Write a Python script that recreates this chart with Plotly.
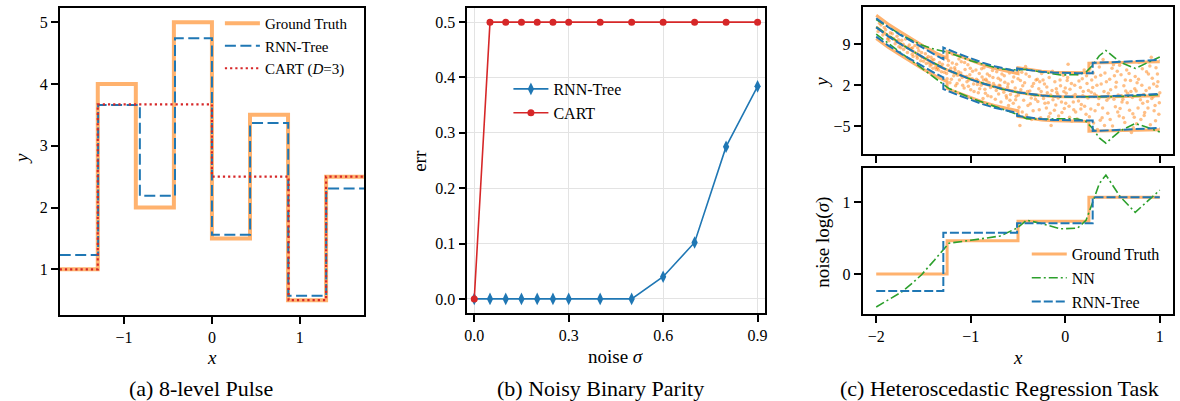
import math
import plotly.graph_objects as go

W, H = 1180, 401

# ---------------- Panel (a): 8-level pulse ----------------
pulse_gt_edges = [-1.732, -1.299, -0.866, -0.433, 0.0, 0.433, 0.866, 1.299, 1.732]
pulse_gt_levels = [1.0, 4.0, 2.0, 5.0, 1.5, 3.5, 0.5, 2.5]
pulse_rnn_edges = [-1.732, -1.295, -0.82, -0.42, 0.0, 0.434, 0.868, 1.30, 1.732]
pulse_rnn_levels = [1.23, 3.66, 2.19, 4.74, 1.56, 3.37, 0.57, 2.31]
pulse_cart_edges = [-1.732, -1.299, 0.0, 0.872, 1.299, 1.732]
pulse_cart_levels = [1.0, 3.67, 2.5, 0.5, 2.5]

# ---------------- Panel (b): noisy binary parity ----------------
parity_noise = [0.0, 0.05, 0.1, 0.15, 0.2, 0.25, 0.3, 0.4, 0.5, 0.6, 0.7, 0.8, 0.9]
parity_rnn_err = [0.0, 0.0, 0.0, 0.0, 0.0, 0.0, 0.0, 0.0, 0.0, 0.040, 0.102, 0.275, 0.384]
parity_cart_err = [0.0, 0.5, 0.5, 0.5, 0.5, 0.5, 0.5, 0.5, 0.5, 0.5, 0.5, 0.5, 0.5]

# ---------------- Panel (c): heteroscedastic regression ----------------
gt_x = [-2.0, -1.875, -1.75, -1.625, -1.5, -1.375, -1.25, -1.125, -1.0, -0.875, -0.75,
        -0.625, -0.5, -0.375, -0.25, -0.125, 0.0, 0.25, 0.5, 0.75, 1.0]
gt_mean = [12.0, 10.5, 9.2, 7.9, 6.7, 5.6, 4.6, 3.8, 3.0, 2.3, 1.7,
           1.2, 0.8, 0.45, 0.2, 0.05, 0.0, -0.05, 0.0, 0.1, 0.2]
gt_breaks = [-1.25, -0.5, 0.25]
gt_logsig = [0.0, 0.465, 0.735, 1.07]

rnn_x = [-2.0, -1.875, -1.75, -1.625, -1.5, -1.375, -1.29, -1.125, -1.0, -0.875, -0.75,
         -0.625, -0.51, -0.375, -0.25, -0.125, 0.0, 0.125, 0.29, 0.5, 0.75, 1.0]
rnn_mean = [11.9, 10.4, 9.1, 7.9, 6.7, 5.6, 4.9, 3.8, 3.0, 2.3, 1.7,
            1.2, 0.8, 0.5, 0.25, 0.1, 0.0, 0.0, 0.0, 0.1, 0.3, 0.5]
rnn_breaks = [-1.29, -0.51, 0.29]
rnn_logsig = [-0.237, 0.576, 0.707, 1.07]

nn_x = [-2.0, -1.87, -1.73, -1.62, -1.52, -1.38, -1.28, -1.23, -1.0, -0.69, -0.51, -0.41,
        -0.27, -0.05, 0.13, 0.22, 0.29, 0.36, 0.43, 0.58, 0.74, 0.88, 1.0]
nn_mean = [12.0, 10.5, 9.0, 7.9, 6.9, 5.7, 4.9, 4.5, 3.0, 1.4, 0.8, 0.5,
           0.22, 0.0, 0.0, 0.0, 0.0, 0.0, 0.0, 0.05, 0.15, 0.3, 0.4]
nn_logsig = [-0.46, -0.36, -0.25, -0.13, -0.01, 0.2, 0.36, 0.43, 0.47, 0.53, 0.64, 0.75,
             0.71, 0.63, 0.64, 0.75, 1.0, 1.26, 1.38, 1.08, 0.86, 1.03, 1.17]

noisy_samples = [
    (-1.98, 11.2), (-1.95, 12.3), (-1.93, 10.6), (-1.90, 11.5), (-1.88, 9.9), (-1.85, 11.0),
    (-1.83, 10.8), (-1.80, 9.1), (-1.78, 10.4), (-1.76, 8.6), (-1.73, 9.7), (-1.71, 8.1),
    (-1.69, 9.9), (-1.67, 7.6), (-1.65, 8.9), (-1.63, 8.3), (-1.61, 6.9), (-1.59, 8.8),
    (-1.57, 7.0), (-1.55, 7.9), (-1.53, 6.2), (-1.52, 7.6), (-1.50, 6.1), (-1.48, 7.4),
    (-1.47, 5.7), (-1.45, 6.9), (-1.43, 5.3), (-1.42, 6.8), (-1.40, 4.9), (-1.39, 6.4),
    (-1.37, 5.1), (-1.36, 7.2), (-1.34, 4.6), (-1.33, 5.9), (-1.31, 4.3), (-1.30, 5.6),
    (-1.29, 6.6), (-1.28, 4.2), (-1.87, 10.1), (-1.74, 8.4), (-1.62, 7.3), (-1.56, 8.4),
    (-1.44, 5.8), (-1.41, 6.3), (-1.35, 5.0),
    (-1.965, 12.6), (-1.915, 11.9), (-1.865, 9.6), (-1.815, 10.0), (-1.765, 9.8),
    (-1.715, 9.0), (-1.665, 8.5), (-1.615, 8.4), (-1.565, 6.6), (-1.515, 6.8),
    (-1.465, 6.6), (-1.415, 5.6), (-1.365, 4.7), (-1.315, 5.2),
    (-1.26, 6.8), (-1.25, 3.1), (-1.24, 5.4), (-1.22, 2.4), (-1.21, 4.9), (-1.19, 7.3),
    (-1.18, 3.6), (-1.16, 1.9), (-1.15, 5.6), (-1.13, 4.3), (-1.12, 2.9), (-1.10, 6.0),
    (-1.09, 3.3), (-1.07, 1.5), (-1.06, 4.7), (-1.04, 2.6), (-1.03, 5.5), (-1.01, 3.8),
    (-1.00, 1.2), (-0.98, 4.4), (-0.97, 2.2), (-0.95, 6.1), (-0.94, 3.0), (-0.92, 0.7),
    (-0.91, 4.0), (-0.89, 2.0), (-0.88, 3.4), (-0.86, 5.0), (-0.85, 1.3), (-0.83, 2.7),
    (-0.82, 0.2), (-0.80, 3.6), (-0.79, 1.6), (-0.77, 4.5), (-0.76, 2.3), (-0.74, -0.4),
    (-0.73, 1.1), (-0.71, 3.2), (-0.70, 2.0), (-0.68, -0.9), (-0.67, 3.9), (-0.65, 0.8),
    (-0.64, 2.5), (-0.62, -0.2), (-0.61, 1.7), (-0.59, 4.1), (-0.58, 0.4), (-0.56, 2.6),
    (-0.55, -1.1), (-0.53, 1.5), (-0.52, 0.1), (-1.14, 3.7), (-1.02, 2.9), (-0.93, 2.1),
    (-0.84, 3.0), (-0.69, 1.9), (-0.60, -1.5), (-0.87, -0.3), (-1.17, 5.0),
    (-1.255, 4.0), (-1.235, 6.2), (-1.205, 3.0), (-1.195, 5.8), (-1.165, 4.6), (-1.145, 2.3),
    (-1.125, 6.5), (-1.105, 4.1), (-1.085, 2.0), (-1.065, 5.9), (-1.045, 3.5), (-1.025, 1.8),
    (-1.005, 4.9), (-0.985, 3.1), (-0.965, 0.9), (-0.945, 4.6), (-0.925, 2.8), (-0.905, 1.4),
    (-0.885, 4.8), (-0.865, 2.9), (-0.845, 0.6), (-0.825, 3.9), (-0.805, 2.4), (-0.785, 0.0),
    (-0.765, 3.3), (-0.745, 1.9), (-0.725, 4.3), (-0.705, 0.5), (-0.685, 2.9), (-0.665, 1.3),
    (-0.645, 3.6), (-0.625, 0.2), (-0.605, 2.2), (-0.585, -0.6), (-0.565, 1.0), (-0.545, 3.4),
    (-0.525, -0.5),
    (-0.50, 3.1), (-0.49, -1.8), (-0.47, 1.2), (-0.46, 4.2), (-0.44, -0.6), (-0.43, 2.4),
    (-0.41, -3.1), (-0.40, 0.9), (-0.38, 3.5), (-0.37, -1.2), (-0.35, 1.8), (-0.34, -2.4),
    (-0.32, 0.2), (-0.31, 2.9), (-0.29, -0.8), (-0.28, 1.4), (-0.26, -3.6), (-0.25, 4.0),
    (-0.23, -0.3), (-0.22, 2.2), (-0.20, -1.9), (-0.19, 0.7), (-0.17, 3.3), (-0.16, -2.8),
    (-0.14, 1.1), (-0.13, -0.5), (-0.11, 2.6), (-0.10, -1.4), (-0.08, 0.4), (-0.07, -3.3),
    (-0.05, 1.9), (-0.04, -0.9), (-0.02, 3.7), (-0.01, -2.0), (0.01, 0.6), (0.02, 2.8),
    (0.04, -1.6), (0.05, 1.3), (0.07, -4.2), (0.08, 0.1), (0.10, 2.0), (0.11, -2.6),
    (0.13, 3.9), (0.14, -0.7), (0.16, 1.6), (0.17, -1.3), (0.19, 0.9), (0.20, 4.6),
    (0.22, -3.0), (0.23, 2.3), (0.24, -0.2), (-0.45, 1.9), (-0.36, -0.2), (-0.27, 2.6),
    (-0.18, -1.0), (-0.09, 0.8), (0.0, 1.5), (0.09, -2.2), (0.18, 3.1), (-0.42, 5.2),
    (0.03, 5.6), (-0.15, -4.9), (-0.48, -4.9),
    (-0.495, 0.3), (-0.475, 2.8), (-0.455, -2.6), (-0.435, 0.6), (-0.415, 3.9), (-0.395, -1.5),
    (-0.375, 1.0), (-0.355, -3.9), (-0.335, 2.3), (-0.315, -0.4), (-0.295, 3.0), (-0.275, -2.2),
    (-0.255, 0.9), (-0.235, 2.9), (-0.215, -1.1), (-0.195, 1.7), (-0.175, -3.4), (-0.155, 0.3),
    (-0.135, 4.4), (-0.115, -2.3), (-0.095, 1.4), (-0.075, -0.2), (-0.055, 2.9), (-0.035, -2.7),
    (-0.015, 0.9), (0.005, -1.1), (0.025, 3.3), (0.045, -3.5), (0.065, 2.3), (0.085, -0.9),
    (0.105, 0.4), (0.125, -3.8), (0.145, 2.7), (0.165, -2.1), (0.185, 0.2), (0.205, -1.6),
    (0.225, 3.6), (0.245, 1.1),
    (0.26, 4.8), (0.27, -2.1), (0.29, 1.6), (0.30, -4.5), (0.32, 3.4), (0.33, 0.2),
    (0.35, -1.3), (0.36, 5.1), (0.38, 2.2), (0.39, -3.6), (0.41, 0.9), (0.42, 4.1),
    (0.44, -0.6), (0.45, -2.8), (0.47, 3.0), (0.48, 1.2), (0.50, -5.0), (0.51, 5.5),
    (0.53, -1.7), (0.54, 2.5), (0.56, 0.3), (0.57, -3.3), (0.59, 3.8), (0.60, -0.9),
    (0.62, 1.9), (0.63, -4.4), (0.65, 4.6), (0.66, 0.6), (0.68, -2.3), (0.69, 2.8),
    (0.71, -0.1), (0.72, -5.3), (0.74, 3.5), (0.75, 1.0), (0.77, -1.9), (0.78, 5.9),
    (0.80, -3.9), (0.81, 2.0), (0.83, 0.4), (0.84, -2.7), (0.86, 4.3), (0.87, -0.8),
    (0.89, 1.5), (0.90, -4.8), (0.92, 3.2), (0.93, 0.0), (0.95, -1.5), (0.96, 5.0),
    (0.98, 2.6), (0.99, -3.0), (0.28, 2.9), (0.34, -5.6), (0.40, 6.4), (0.46, -0.2),
    (0.52, 3.6), (0.58, -2.0), (0.64, 1.0), (0.70, -6.1), (0.76, 2.4), (0.82, -1.1),
    (0.88, 3.9), (0.94, -2.4), (0.97, 1.8), (1.0, 0.7), (0.37, -4.0), (0.55, 4.4),
    (0.73, -3.5), (0.91, 6.8), (0.31, 0.5), (0.61, -0.4),
    (0.255, -3.4), (0.275, 0.8), (0.295, 4.1), (0.315, -2.4), (0.335, 2.0), (0.355, -0.3),
    (0.375, 3.7), (0.395, -1.9), (0.415, -4.9), (0.435, 2.6), (0.455, 0.6), (0.475, -3.9),
    (0.495, 4.9), (0.515, -0.4), (0.535, 1.7), (0.555, -2.6), (0.575, 5.4), (0.595, 0.2),
    (0.615, -3.6), (0.635, 2.9), (0.655, -1.0), (0.675, 4.0), (0.695, 0.9), (0.715, -2.9),
    (0.735, 1.4), (0.755, -4.6), (0.775, 3.0), (0.795, -0.5), (0.815, 4.8), (0.835, -3.2),
    (0.855, 1.1), (0.875, -1.9), (0.895, 5.3), (0.915, -0.3), (0.935, 2.2), (0.955, -4.1),
    (0.975, 3.9), (0.995, -1.0),
]

# ---------------- styles ----------------
FONT = "Liberation Serif"
ORANGE = "rgb(255,178,110)"
BLUE = "#1f77b4"
RED = "#d62728"
GREEN = "#2ca02c"


def px_x(p):
    return p / W


def px_y(p):
    return 1 - p / H


def step_y(levels):
    return list(levels) + [levels[-1]]


def band(xs, means, breaks, logs, sign):
    bx, by = [], []
    for x, m in zip(xs, means):
        if x in breaks:
            i = breaks.index(x)
            bx += [x, x]
            by += [m + sign * 2 * math.exp(logs[i]), m + sign * 2 * math.exp(logs[i + 1])]
        else:
            i = sum(1 for b in breaks if x > b)
            bx.append(x)
            by.append(m + sign * 2 * math.exp(logs[i]))
    return bx, by


def step_curve(xmin, xmax, breaks, logs):
    sx = [xmin]
    sy = [logs[0]]
    for i, b in enumerate(breaks):
        sx += [b, b]
        sy += [logs[i], logs[i + 1]]
    sx.append(xmax)
    sy.append(logs[-1])
    return sx, sy


fig = go.Figure()

# Panel (a)
fig.add_trace(go.Scatter(x=pulse_gt_edges, y=step_y(pulse_gt_levels), mode="lines", line_shape="hv",
                         line=dict(color=ORANGE, width=4), name="Ground Truth",
                         xaxis="x", yaxis="y", legend="legend"))
fig.add_trace(go.Scatter(x=pulse_rnn_edges, y=step_y(pulse_rnn_levels), mode="lines", line_shape="hv",
                         line=dict(color=BLUE, width=2, dash="11px,4.5px"), name="RNN-Tree",
                         xaxis="x", yaxis="y", legend="legend"))
fig.add_trace(go.Scatter(x=pulse_cart_edges, y=step_y(pulse_cart_levels), mode="lines", line_shape="hv",
                         line=dict(color=RED, width=2.2, dash="2.2px,3px"), name="CART (<i>D</i>=3)",
                         xaxis="x", yaxis="y", legend="legend"))

# Panel (b)
fig.add_trace(go.Scatter(x=parity_noise, y=parity_rnn_err, mode="lines+markers",
                         line=dict(color=BLUE, width=1.6),
                         marker=dict(symbol="diamond-tall", size=9, color=BLUE),
                         name="RNN-Tree", xaxis="x2", yaxis="y2", legend="legend2"))
fig.add_trace(go.Scatter(x=parity_noise, y=parity_cart_err, mode="lines+markers",
                         line=dict(color=RED, width=1.6),
                         marker=dict(symbol="circle", size=7, color=RED),
                         name="CART", xaxis="x2", yaxis="y2", legend="legend2"))

# Panel (c) top
sx = [p[0] for p in noisy_samples]
sy = [p[1] for p in noisy_samples]
fig.add_trace(go.Scatter(x=sx, y=sy, mode="markers", showlegend=False,
                         marker=dict(size=3.5, color="rgba(255,127,14,0.5)", line=dict(width=0)),
                         xaxis="x3", yaxis="y3"))
for sign in (1, -1):
    bx, by = band(gt_x, gt_mean, gt_breaks, gt_logsig, sign)
    fig.add_trace(go.Scatter(x=bx, y=by, mode="lines", showlegend=False,
                             line=dict(color=ORANGE, width=3), xaxis="x3", yaxis="y3"))
fig.add_trace(go.Scatter(x=gt_x, y=gt_mean, mode="lines", showlegend=False,
                         line=dict(color=ORANGE, width=3), xaxis="x3", yaxis="y3"))

nn_up = [m + 2 * math.exp(s) for m, s in zip(nn_mean, nn_logsig)]
nn_lo = [m - 2 * math.exp(s) for m, s in zip(nn_mean, nn_logsig)]
for yy in (nn_up, nn_mean, nn_lo):
    fig.add_trace(go.Scatter(x=nn_x, y=yy, mode="lines", showlegend=False,
                             line=dict(color=GREEN, width=1.6, dash="9px,3px,2px,3px"),
                             xaxis="x3", yaxis="y3"))

for sign in (1, -1):
    bx, by = band(rnn_x, rnn_mean, rnn_breaks, rnn_logsig, sign)
    fig.add_trace(go.Scatter(x=bx, y=by, mode="lines", showlegend=False,
                             line=dict(color=BLUE, width=2, dash="9px,3px"), xaxis="x3", yaxis="y3"))
fig.add_trace(go.Scatter(x=rnn_x, y=rnn_mean, mode="lines", showlegend=False,
                         line=dict(color=BLUE, width=2, dash="9px,3px"), xaxis="x3", yaxis="y3"))

# Panel (c) bottom
gx, gy = step_curve(-2.0, 1.0, gt_breaks, gt_logsig)
fig.add_trace(go.Scatter(x=gx, y=gy, mode="lines", name="Ground Truth",
                         line=dict(color=ORANGE, width=3), xaxis="x4", yaxis="y4", legend="legend3"))
fig.add_trace(go.Scatter(x=nn_x, y=nn_logsig, mode="lines", name="NN",
                         line=dict(color=GREEN, width=1.6, dash="9px,3px,2px,3px"),
                         xaxis="x4", yaxis="y4", legend="legend3"))
rx, ry = step_curve(-2.0, 1.0, rnn_breaks, rnn_logsig)
fig.add_trace(go.Scatter(x=rx, y=ry, mode="lines", name="RNN-Tree",
                         line=dict(color=BLUE, width=2, dash="9px,3px"),
                         xaxis="x4", yaxis="y4", legend="legend3"))

axis_common = dict(showline=True, linecolor="black", linewidth=1.6, mirror=True,
                   ticks="outside", ticklen=7, tickwidth=1.6, tickcolor="black",
                   showgrid=False, zeroline=False,
                   tickfont=dict(family=FONT, size=16, color="black"))


def legend_style(x, y, size):
    return dict(x=px_x(x), y=px_y(y), bgcolor="rgba(0,0,0,0)", borderwidth=0,
                font=dict(family=FONT, size=size, color="black"),
                xanchor="left", yanchor="top", itemwidth=35)


fig.update_layout(
    width=W, height=H, margin=dict(l=0, r=0, t=0, b=0),
    paper_bgcolor="white", plot_bgcolor="white",
    font=dict(family=FONT, size=16, color="black"),
    xaxis=dict(domain=[px_x(57), px_x(363)], range=[-1.732, 1.732], tickvals=[-1, 0, 1],
               anchor="y", **axis_common),
    yaxis=dict(domain=[px_y(314.7), px_y(8)], range=[0.265, 5.23], tickvals=[1, 2, 3, 4, 5],
               anchor="x", **axis_common),
    xaxis2=dict(domain=[px_x(466.7), px_x(765.7)], range=[-0.022, 0.923],
                tickvals=[0, 0.3, 0.6, 0.9], ticktext=["0.0", "0.3", "0.6", "0.9"], anchor="y2",
                **{**axis_common, "showgrid": True, "gridcolor": "#e3e3e3", "gridwidth": 1}),
    yaxis2=dict(domain=[px_y(313.3), px_y(8.3)], range=[-0.026, 0.525],
                tickvals=[0, 0.1, 0.2, 0.3, 0.4, 0.5],
                ticktext=["0.0", "0.1", "0.2", "0.3", "0.4", "0.5"], anchor="x2",
                **{**axis_common, "showgrid": True, "gridcolor": "#e3e3e3", "gridwidth": 1}),
    xaxis3=dict(domain=[px_x(864), px_x(1176)], range=[-2.144, 1.14], tickvals=[-2, -1, 0, 1],
                showticklabels=False, anchor="y3", **axis_common),
    yaxis3=dict(domain=[px_y(154), px_y(7.3)], range=[-9.8, 15.35], tickvals=[-5, 2, 9],
                anchor="x3", **axis_common),
    xaxis4=dict(domain=[px_x(864), px_x(1176)], range=[-2.144, 1.14], tickvals=[-2, -1, 0, 1],
                anchor="y4", **axis_common),
    yaxis4=dict(domain=[px_y(314.3), px_y(168.3)], range=[-0.562, 1.474], tickvals=[0, 1],
                anchor="x4", **axis_common),
    legend=legend_style(218, 7, 15),
    legend2=legend_style(508, 72, 16),
    legend3=legend_style(1029, 237, 16),
)

ann = []


def label(text, x, y, size=19, angle=0):
    ann.append(dict(text=text, x=px_x(x), y=px_y(y), xref="paper", yref="paper",
                    showarrow=False, xanchor="center", yanchor="middle", textangle=angle,
                    font=dict(family=FONT, size=size, color="black")))


label("<i>x</i>", 210, 357)
label("<i>y</i>", 18, 158, angle=-90)
label("noise <i>σ</i>", 616, 356)
label("err", 418, 161, angle=-90)
label("<i>y</i>", 822, 82, angle=-90)
label("noise log(<i>σ</i>)", 824, 242, angle=-90)
label("<i>x</i>", 1020, 357)
label("(a) 8-level Pulse", 199, 388, size=22)
label("(b) Noisy Binary Parity", 601, 388, size=22)
label("(c) Heteroscedastic Regression Task", 1002, 388, size=22)
fig.update_layout(annotations=ann)

fig.write_html("out.html", config={"displayModeBar": False},
               post_script="document.body.style.margin='0';document.body.style.padding='0';"
                           "document.body.style.overflow='hidden';")
